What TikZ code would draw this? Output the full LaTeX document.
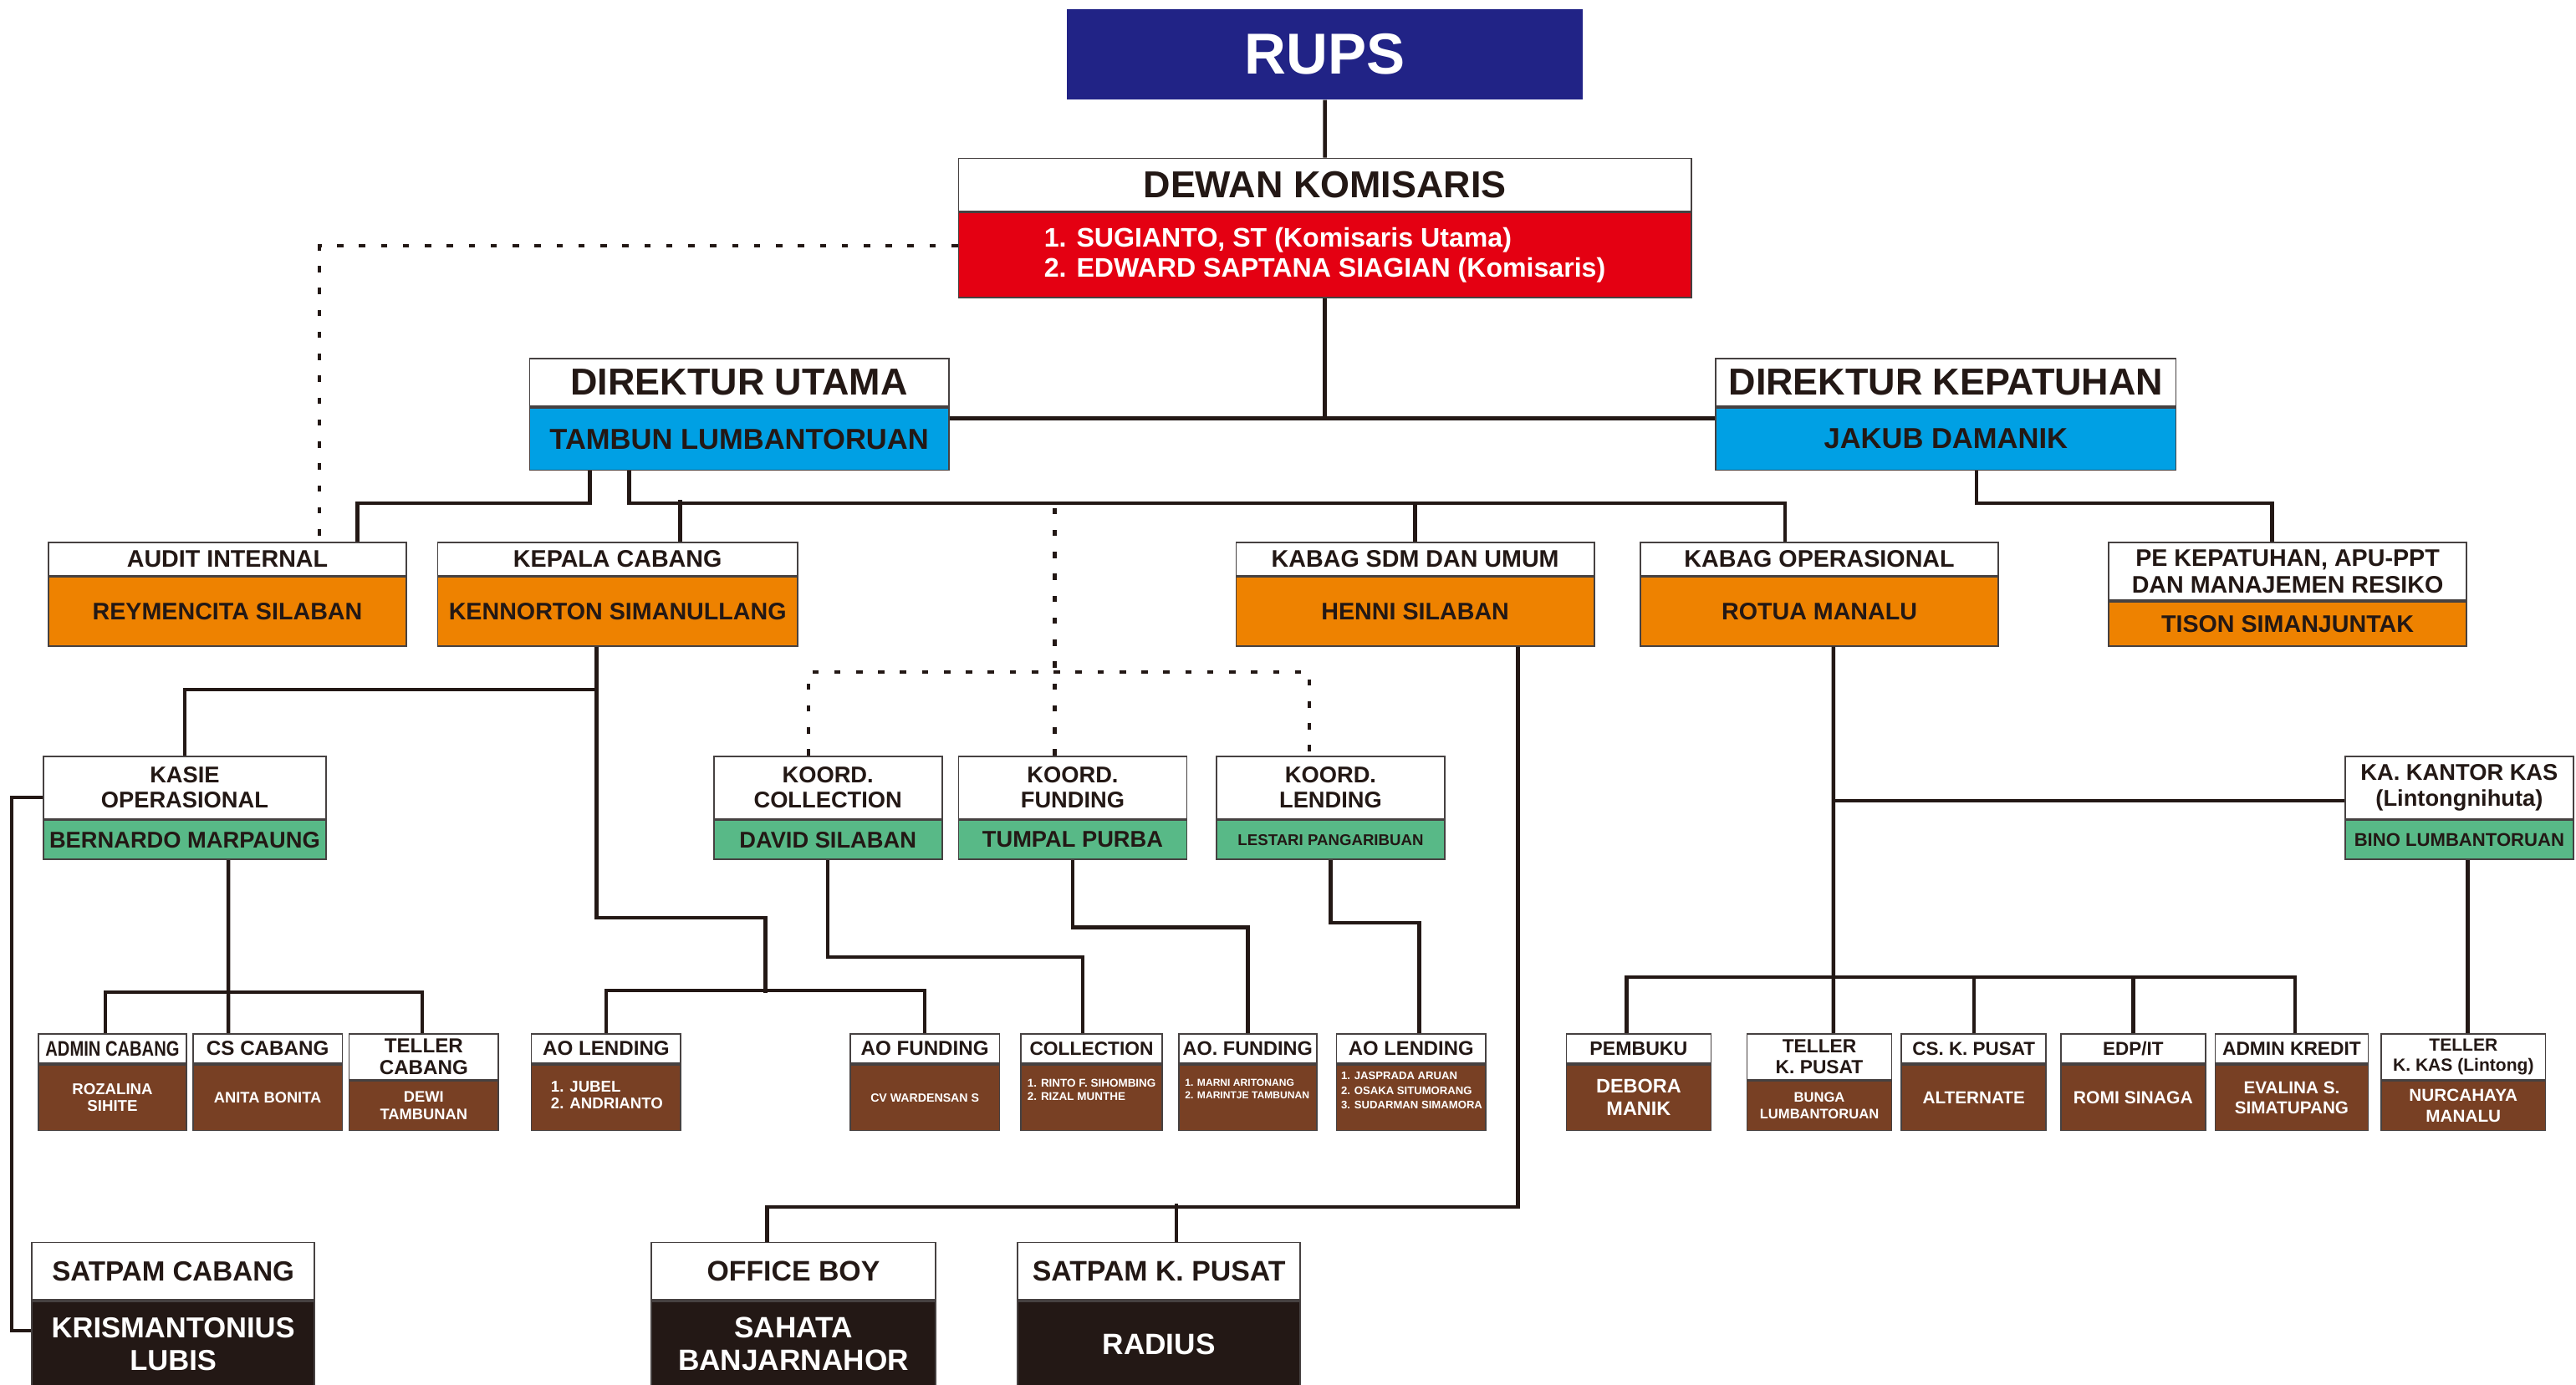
\documentclass[tikz,border=0pt]{standalone}
\usepackage{fontspec}
\setmainfont{Liberation Sans}
\newfontfamily\narrowfont[FakeStretch=0.8]{Liberation Sans}
\usetikzlibrary{positioning, calc}
\definecolor{RupsBlue}{RGB}{33,35,134}
\definecolor{KomRed}{RGB}{228,0,18}
\definecolor{DirBlue}{RGB}{0,160,228}
\definecolor{MgrOrange}{RGB}{238,130,0}
\definecolor{KoorGreen}{RGB}{88,185,135}
\definecolor{StaffBrown}{RGB}{120,64,36}
\definecolor{GuardBlack}{RGB}{35,24,21}
\definecolor{Ink}{RGB}{35,24,21}
\definecolor{Frame}{RGB}{70,65,65}
\newcommand{\sz}[2]{\fontsize{#1}{#2}\selectfont\bfseries}

\begin{document}
\begin{tikzpicture}[
    head/.style={draw=Frame, line width=0.5pt, fill=white, text=Ink, inner sep=0pt, align=center, anchor=north west},
    seat/.style={draw=Frame, line width=0.5pt, inner sep=0pt, align=center},
    list/.style={anchor=north west, align=left, inner sep=0pt, text=white},
    link/.style={draw=Ink, line width=1.3pt},
    dots/.style={draw=Ink, line width=1.2pt, dash pattern=on 2.2pt off 5.4pt}
  ]
  \useasboundingbox (0,0) rectangle (31.36,-16.86);

  % RUPS and board of commissioners
  \node[seat, draw=none, anchor=north west, fill=RupsBlue, text=white, minimum width=6.28cm, minimum height=1.10cm, font=\sz{20}{24}] (rups) at (12.98,-0.10) {RUPS};
  \node[head, minimum width=8.92cm, minimum height=0.64cm, font=\sz{13}{15}] (kom-h) at (11.66,-1.92) {DEWAN KOMISARIS};
  \node[seat, fill=KomRed, text=white, minimum width=8.92cm, minimum height=1.04cm, align=left, font=\sz{9.3}{10.3}, below=0pt of kom-h] (kom) {1. SUGIANTO, ST (Komisaris Utama)\\2. EDWARD SAPTANA SIAGIAN (Komisaris)};

  % directors
  \node[head, minimum width=5.10cm, minimum height=0.58cm, font=\sz{13}{15}] (du-h) at (6.44,-4.36) {DIREKTUR UTAMA};
  \node[seat, fill=DirBlue, text=Ink, minimum width=5.10cm, minimum height=0.76cm, font=\sz{10}{12}, below=0pt of du-h] (du) {TAMBUN LUMBANTORUAN};
  \node[head, minimum width=5.60cm, minimum height=0.58cm, font=\sz{13}{15}] (dk-h) at (20.88,-4.36) {DIREKTUR KEPATUHAN};
  \node[seat, fill=DirBlue, text=Ink, minimum width=5.60cm, minimum height=0.76cm, font=\sz{10}{12}, below=0pt of dk-h] (dk) {JAKUB DAMANIK};

  % heads of units
  \node[head, minimum width=4.36cm, minimum height=0.40cm, font=\sz{8.3}{9.2}] (audit-h) at (0.58,-6.60) {AUDIT INTERNAL};
  \node[seat, fill=MgrOrange, text=Ink, minimum width=4.36cm, minimum height=0.84cm, font=\sz{8.3}{9.2}, below=0pt of audit-h] (audit) {REYMENCITA SILABAN};
  \node[head, minimum width=4.38cm, minimum height=0.40cm, font=\sz{8.3}{9.2}] (kep-h) at (5.32,-6.60) {KEPALA CABANG};
  \node[seat, fill=MgrOrange, text=Ink, minimum width=4.38cm, minimum height=0.84cm, font=\sz{8.3}{9.2}, below=0pt of kep-h] (kep) {KENNORTON SIMANULLANG};
  \node[head, minimum width=4.36cm, minimum height=0.40cm, font=\sz{8.3}{9.2}] (sdm-h) at (15.04,-6.60) {KABAG SDM DAN UMUM};
  \node[seat, fill=MgrOrange, text=Ink, minimum width=4.36cm, minimum height=0.84cm, font=\sz{8.3}{9.2}, below=0pt of sdm-h] (sdm) {HENNI SILABAN};
  \node[head, minimum width=4.36cm, minimum height=0.40cm, font=\sz{8.3}{9.2}] (kabop-h) at (19.96,-6.60) {KABAG OPERASIONAL};
  \node[seat, fill=MgrOrange, text=Ink, minimum width=4.36cm, minimum height=0.84cm, font=\sz{8.3}{9.2}, below=0pt of kabop-h] (kabop) {ROTUA MANALU};
  \node[head, minimum width=4.36cm, minimum height=0.70cm, font=\sz{8.3}{9.2}] (pe-h) at (25.66,-6.60) {PE KEPATUHAN, APU-PPT\\DAN MANAJEMEN RESIKO};
  \node[seat, fill=MgrOrange, text=Ink, minimum width=4.36cm, minimum height=0.54cm, font=\sz{8.3}{9.2}, below=0pt of pe-h] (pe) {TISON SIMANJUNTAK};

  % sections and coordinators
  \node[head, minimum width=3.44cm, minimum height=0.76cm, font=\sz{7.9}{8.9}] (kas-h) at (0.52,-9.20) {KASIE\\OPERASIONAL};
  \node[seat, fill=KoorGreen, text=Ink, minimum width=3.44cm, minimum height=0.48cm, font=\sz{7.9}{8.9}, below=0pt of kas-h] (kas) {BERNARDO MARPAUNG};
  \node[head, minimum width=2.78cm, minimum height=0.76cm, font=\sz{7.9}{8.9}] (kc-h) at (8.68,-9.20) {KOORD.\\COLLECTION};
  \node[seat, fill=KoorGreen, text=Ink, minimum width=2.78cm, minimum height=0.48cm, font=\sz{7.9}{8.9}, below=0pt of kc-h] (kc) {DAVID SILABAN};
  \node[head, minimum width=2.78cm, minimum height=0.76cm, font=\sz{7.9}{8.9}] (kf-h) at (11.66,-9.20) {KOORD.\\FUNDING};
  \node[seat, fill=KoorGreen, text=Ink, minimum width=2.78cm, minimum height=0.48cm, font=\sz{7.9}{8.9}, below=0pt of kf-h] (kf) {TUMPAL PURBA};
  \node[head, minimum width=2.78cm, minimum height=0.76cm, font=\sz{7.9}{8.9}] (kl-h) at (14.80,-9.20) {KOORD.\\LENDING};
  \node[seat, fill=KoorGreen, text=Ink, minimum width=2.78cm, minimum height=0.48cm, font=\sz{5.4}{6.4}, below=0pt of kl-h] (kl) {LESTARI PANGARIBUAN};
  \node[head, minimum width=2.78cm, minimum height=0.76cm, font=\sz{7.9}{8.9}] (kk-h) at (28.54,-9.20) {KA. KANTOR KAS\\(Lintongnihuta)};
  \node[seat, fill=KoorGreen, text=Ink, minimum width=2.78cm, minimum height=0.48cm, font=\sz{6.4}{7.4}, below=0pt of kk-h] (kk) {BINO LUMBANTORUAN};

  % staff, branch side
  \node[head, minimum width=1.80cm, minimum height=0.36cm, font=\sz{7.3}{7.4}\narrowfont] (adm-h) at (0.46,-12.58) {ADMIN CABANG};
  \node[seat, fill=StaffBrown, text=white, minimum width=1.80cm, minimum height=0.80cm, font=\sz{5.4}{6}, below=0pt of adm-h] (adm) {ROZALINA\\SIHITE};
  \node[head, minimum width=1.82cm, minimum height=0.36cm, font=\sz{7}{7.4}] (cs-h) at (2.34,-12.58) {CS CABANG};
  \node[seat, fill=StaffBrown, text=white, minimum width=1.82cm, minimum height=0.80cm, font=\sz{5.3}{6}, below=0pt of cs-h] (cs) {ANITA BONITA};
  \node[head, minimum width=1.82cm, minimum height=0.56cm, font=\sz{7}{7.4}] (tel-h) at (4.24,-12.58) {TELLER\\CABANG};
  \node[seat, fill=StaffBrown, text=white, minimum width=1.82cm, minimum height=0.60cm, font=\sz{5.3}{6}, below=0pt of tel-h] (tel) {DEWI\\TAMBUNAN};
  \node[head, minimum width=1.82cm, minimum height=0.36cm, font=\sz{7}{7.4}] (ao1-h) at (6.46,-12.58) {AO LENDING};
  \node[seat, fill=StaffBrown, minimum width=1.82cm, minimum height=0.80cm, below=0pt of ao1-h] (ao1) {};
  \node[list, font=\sz{5.4}{6}] (ao1-t) at ([xshift=0.24cm, yshift=-0.20cm]ao1.north west) {1. JUBEL\\2. ANDRIANTO};
  \node[head, minimum width=1.82cm, minimum height=0.36cm, font=\sz{7}{7.4}] (aof1-h) at (10.34,-12.58) {AO FUNDING};
  \node[seat, fill=StaffBrown, text=white, minimum width=1.82cm, minimum height=0.80cm, font=\sz{4.1}{5}, below=0pt of aof1-h] (aof1) {CV WARDENSAN S};
  \node[head, minimum width=1.72cm, minimum height=0.36cm, font=\sz{6.6}{7.4}] (col-h) at (12.42,-12.58) {COLLECTION};
  \node[seat, fill=StaffBrown, minimum width=1.72cm, minimum height=0.80cm, below=0pt of col-h] (col) {};
  \node[list, font=\sz{3.9}{4.4}] (col-t) at ([xshift=0.08cm, yshift=-0.18cm]col.north west) {1. RINTO F. SIHOMBING\\2. RIZAL MUNTHE};
  \node[head, minimum width=1.68cm, minimum height=0.36cm, font=\sz{6.8}{7.4}] (aof2-h) at (14.34,-12.58) {AO. FUNDING};
  \node[seat, fill=StaffBrown, minimum width=1.68cm, minimum height=0.80cm, below=0pt of aof2-h] (aof2) {};
  \node[list, font=\sz{3.5}{4.3}] (aof2-t) at ([xshift=0.08cm, yshift=-0.18cm]aof2.north west) {1. MARNI ARITONANG\\2. MARINTJE TAMBUNAN};
  \node[head, minimum width=1.82cm, minimum height=0.36cm, font=\sz{6.9}{7.4}] (aol2-h) at (16.26,-12.58) {AO LENDING};
  \node[seat, fill=StaffBrown, minimum width=1.82cm, minimum height=0.80cm, below=0pt of aol2-h] (aol2) {};
  \node[list, font=\sz{3.8}{5.1}] (aol2-t) at ([xshift=0.06cm, yshift=-0.09cm]aol2.north west) {1. JASPRADA ARUAN\\2. OSAKA SITUMORANG\\3. SUDARMAN SIMAMORA};

  % staff, head office side
  \node[head, minimum width=1.76cm, minimum height=0.36cm, font=\sz{6.7}{7.4}] (pb-h) at (19.06,-12.58) {PEMBUKU};
  \node[seat, fill=StaffBrown, text=white, minimum width=1.76cm, minimum height=0.80cm, font=\sz{6.8}{7.8}, below=0pt of pb-h] (pb) {DEBORA\\MANIK};
  \node[head, minimum width=1.76cm, minimum height=0.56cm, font=\sz{6.6}{7.2}] (tkp-h) at (21.26,-12.58) {TELLER\\K. PUSAT};
  \node[seat, fill=StaffBrown, text=white, minimum width=1.76cm, minimum height=0.60cm, font=\sz{4.8}{5.7}, below=0pt of tkp-h] (tkp) {BUNGA\\LUMBANTORUAN};
  \node[head, minimum width=1.76cm, minimum height=0.36cm, font=\sz{6.5}{7.4}] (cskp-h) at (23.14,-12.58) {CS. K. PUSAT};
  \node[seat, fill=StaffBrown, text=white, minimum width=1.76cm, minimum height=0.80cm, font=\sz{6}{7}, below=0pt of cskp-h] (cskp) {ALTERNATE};
  \node[head, minimum width=1.76cm, minimum height=0.36cm, font=\sz{6.5}{7.4}] (edp-h) at (25.08,-12.58) {EDP/IT};
  \node[seat, fill=StaffBrown, text=white, minimum width=1.76cm, minimum height=0.80cm, font=\sz{6.1}{7}, below=0pt of edp-h] (edp) {ROMI SINAGA};
  \node[head, minimum width=1.86cm, minimum height=0.36cm, font=\sz{6.6}{7.4}] (akr-h) at (26.96,-12.58) {ADMIN KREDIT};
  \node[seat, fill=StaffBrown, text=white, minimum width=1.86cm, minimum height=0.80cm, font=\sz{6}{7.1}, below=0pt of akr-h] (akr) {EVALINA S.\\SIMATUPANG};
  \node[head, minimum width=2.00cm, minimum height=0.56cm, font=\sz{6.1}{6.8}] (tkk-h) at (28.98,-12.58) {TELLER\\K. KAS (Lintong)};
  \node[seat, fill=StaffBrown, text=white, minimum width=2.00cm, minimum height=0.60cm, font=\sz{6}{7.1}, below=0pt of tkk-h] (tkk) {NURCAHAYA\\MANALU};

  % security and office boy
  \node[head, minimum width=3.44cm, minimum height=0.70cm, font=\sz{9.6}{11}] (sat-h) at (0.38,-15.12) {SATPAM CABANG};
  \node[seat, fill=GuardBlack, text=white, minimum width=3.44cm, minimum height=1.04cm, font=\sz{10}{11.3}, below=0pt of sat-h] (sat) {KRISMANTONIUS\\LUBIS};
  \node[head, minimum width=3.46cm, minimum height=0.70cm, font=\sz{9.8}{11}] (ob-h) at (7.92,-15.12) {OFFICE BOY};
  \node[seat, fill=GuardBlack, text=white, minimum width=3.46cm, minimum height=1.04cm, font=\sz{10.2}{11.3}, below=0pt of ob-h] (ob) {SAHATA\\BANJARNAHOR};
  \node[head, minimum width=3.44cm, minimum height=0.70cm, font=\sz{9.8}{11}] (skp-h) at (12.38,-15.12) {SATPAM K. PUSAT};
  \node[seat, fill=GuardBlack, text=white, minimum width=3.44cm, minimum height=1.04cm, font=\sz{10.2}{11.3}, below=0pt of skp-h] (skp) {RADIUS};

  % top of the chart
  \draw[link] (rups.south) -- (kom-h.north);
  \draw[link] (kom.south) -- ++(0,-1.46) coordinate (kj);
  \draw[link] (du.east |- kj) -- (dk.west |- kj);
  \draw[dots] ([yshift=0.11cm]kom.west) -| ([xshift=1.12cm]audit-h.north);

  % under the president director
  \draw[link] ([xshift=0.74cm]du.south west) -- ++(0,-0.39) -| ([xshift=1.58cm]audit-h.north);
  \draw[link] ([xshift=1.22cm]du.south west) -- ++(0,-0.39) coordinate (dj) -| ([xshift=-0.42cm]kabop-h.north);
  \draw[link] ([xshift=2.96cm]kep-h.north west) -- ++(0,0.51);
  \draw[link] (sdm-h.north) -- (sdm-h.north |- dj);
  \draw[link] ([xshift=3.18cm]dk.south west) -- ++(0,-0.39) -| ([xshift=2.00cm]pe-h.north west);

  % branch
  \draw[link] ([xshift=1.94cm]kep.south west) -- ++(0,-0.52) -| (kas-h.north);
  \draw[link] ([xshift=1.94cm]kep.south west) -- ++(0,-3.30) -- ++(2.06,0) -- ++(0,-0.92);
  \draw[link] (ao1-h.north) -- ++(0,0.52) -| (aof1-h.north);
  \draw[link] ([xshift=2.26cm]kas.south west) -- ([xshift=0.44cm]cs-h.north west);
  \draw[link] ([xshift=0.82cm]adm-h.north west) -- ++(0,0.50) -| ([xshift=0.90cm]tel-h.north west);
  \draw[link] ([yshift=-0.12cm]kas-h.west) -- ++(-0.38,0) |- ([yshift=0.16cm]sat.west);

  % coordinators
  \draw[dots] ([xshift=1.18cm]kf-h.north west) -- ++(0,3.11);
  \draw[dots] ([xshift=1.16cm]kc-h.north west) -- ++(0,1.02) -| ([xshift=1.14cm]kl-h.north west);
  \draw[link] (kc.south) -- ++(0,-1.18) -| ([xshift=0.76cm]col-h.north west);
  \draw[link] (kf.south) -- ++(0,-0.82) -| (aof2-h.north);
  \draw[link] (kl.south) -- ++(0,-0.76) -| ([xshift=1.02cm]aol2-h.north west);

  % general affairs
  \draw[link] ([xshift=3.44cm]sdm.south west) -- ++(0,-6.82) -| ([xshift=1.42cm]ob-h.north west);
  \draw[link] ([xshift=1.94cm]skp-h.north west) -- ++(0,0.46);

  % operations
  \draw[link] ([xshift=2.36cm]kabop.south west) -- ([xshift=1.06cm]tkp-h.north west);
  \draw[link] ([yshift=-0.16cm]kk-h.west) -| ([xshift=2.36cm]kabop.south west);
  \draw[link] ([xshift=0.74cm]pb-h.north west) -- ++(0,0.68) -| ([xshift=0.98cm]akr-h.north west);
  \draw[link] (cskp-h.north) -- ++(0,0.68);
  \draw[link] (edp-h.north) -- ++(0,0.68);
  \draw[link] ([xshift=1.50cm]kk.south west) -- ([xshift=1.06cm]tkk-h.north west);
\end{tikzpicture}
\end{document}
